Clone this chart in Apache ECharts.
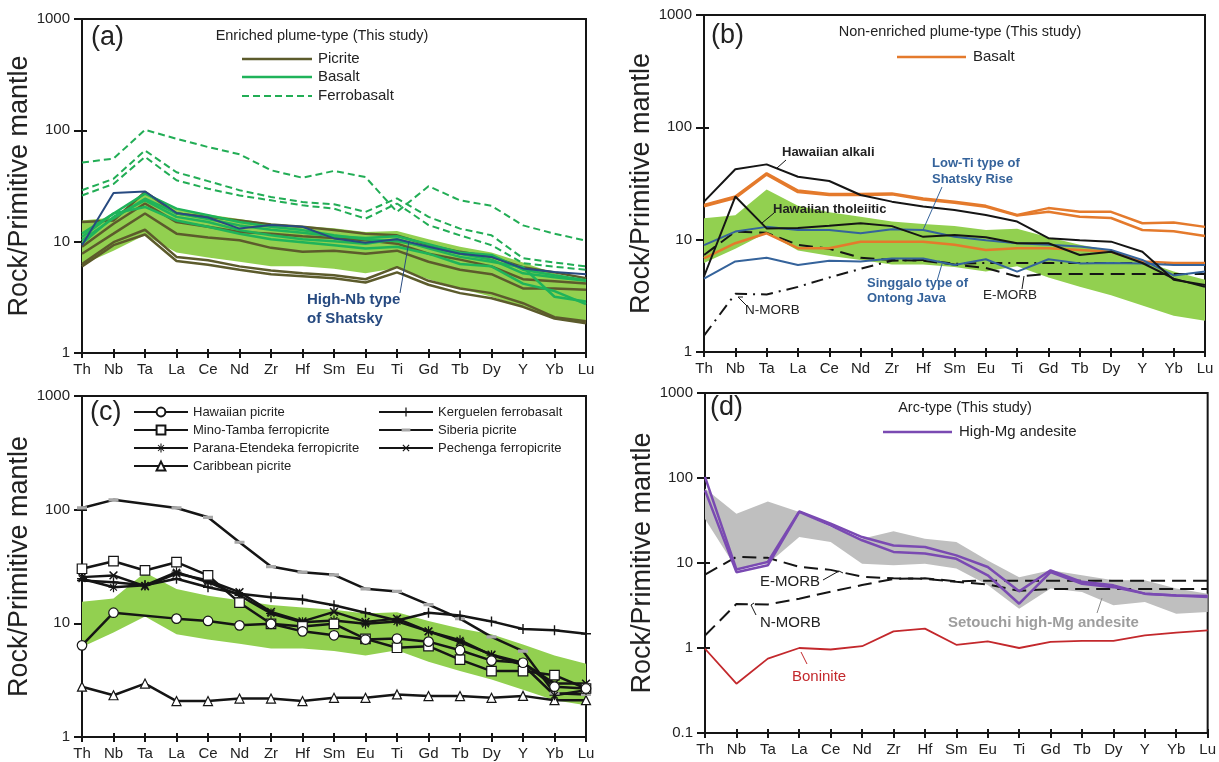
<!DOCTYPE html>
<html>
<head>
<meta charset="utf-8">
<script src="https://cdn.jsdelivr.net/npm/echarts@6/dist/echarts.min.js"></script>
<style>
  html, body { margin: 0; padding: 0; background: #fff; }
  #chart { width: 1219px; height: 762px; }
</style>
</head>
<body>
<div id="chart"></div>
<script>
// Trace elements, ordered by incompatibility
const elements = ['Th','Nb','Ta','La','Ce','Nd','Zr','Hf','Sm','Eu','Ti','Gd','Tb','Dy','Y','Yb','Lu'];

// Enriched plume-type field (shaded range)
const fieldLow  = [6.2, 8.3, 11.5, 8.0, 7.2, 6.6, 6.0, 6.0, 5.7, 5.2, 5.8, 4.6, 3.8, 3.2, 2.6, 2.1, 1.9];
const fieldHigh = [15.5, 16.5, 28, 20, 17.5, 16, 14.5, 13.8, 13.2, 12.2, 12.5, 10.5, 9.0, 8.0, 6.5, 5.2, 4.4];

// (a) Enriched plume-type samples
const picrite1 = [15, 15.5, 28, 17.9, 16.7, 15.5, 14.3, 13.6, 12.7, 11.8, 11.4, 9.3, 8.1, 7.3, 5.9, 5.3, 4.7];
const picrite2 = [9.0, 14.5, 22, 15, 13.6, 12.2, 11.8, 11.2, 10.8, 10.3, 9.6, 7.8, 6.9, 6.0, 4.6, 4.4, 4.2];
const picrite3 = [7.8, 11.8, 17.9, 11.8, 10.9, 10.3, 8.8, 8.1, 8.3, 7.8, 8.3, 6.6, 5.6, 5.1, 3.8, 3.8, 3.7];
const picrite4 = [6.3, 9.9, 12.8, 7.3, 6.8, 6.0, 5.5, 5.2, 5.0, 4.6, 5.9, 4.45, 3.8, 3.45, 2.8, 2.1, 1.93];
const picrite5 = [6.0, 9.3, 11.6, 6.7, 6.2, 5.6, 5.1, 4.9, 4.7, 4.3, 5.3, 4.1, 3.45, 3.1, 2.6, 2.04, 1.85];
const basalt1 = [11.8, 17.9, 27, 19.8, 17.3, 15, 13.6, 12.7, 11.4, 10.5, 10.1, 9.0, 7.8, 6.9, 5.2, 4.8, 4.45];
const basalt2 = [9.6, 16.7, 23.5, 16.7, 15, 12.7, 11.4, 10.5, 10.1, 9.6, 10.5, 8.7, 7.3, 6.6, 5.9, 3.2, 2.9];
const basalt3 = [11, 17.9, 20.5, 15.5, 13.6, 11.8, 10.5, 9.9, 9.3, 8.7, 9.0, 7.8, 6.3, 6.0, 4.2, 3.6, 2.75];
const basalt4 = [10.3, 16.2, 24.3, 18, 16, 14, 12.8, 12, 11.2, 10.8, 11.2, 9.5, 8.0, 7.6, 5.6, 5.0, 4.5];
const ferro1 = [51.3, 55.7, 101, 84, 70.8, 61, 43.8, 37.5, 43.2, 38, 18.5, 31.5, 23.5, 21, 14, 11.8, 10.2];
const ferro2 = [29, 36.7, 66, 42, 35, 29, 25.2, 22.7, 21.7, 18.5, 24.5, 16.7, 13.1, 11.4, 7.1, 6.5, 6.0];
const ferro3 = [26, 33, 57.8, 35.6, 29.9, 26, 23.5, 21.2, 19.8, 16.1, 22, 14.1, 11.4, 9.3, 6.4, 5.95, 5.6];
const highNbShatsky = [9.3, 27.4, 28.2, 18.1, 16.5, 13.1, 14.1, 13.6, 10.7, 9.8, 10.5, 9.0, 7.8, 7.3, 5.75, 5.35, 5.1];

// (b) Non-enriched plume-type samples and references
const nonEnriched1 = [20.4, 24.2, 39, 27.4, 25.5, 25.5, 25.8, 23.3, 21.8, 20, 16.6, 19.1, 17.7, 17.7, 14, 14.2, 13];
const nonEnriched2 = [19.8, 23.5, 38, 26.5, 25, 25, 25.3, 22.8, 21.3, 19.6, 16.4, 17.7, 16, 15.6, 12.2, 11.9, 10.8];
const nonEnriched3 = [6.8, 9.3, 11.4, 8.4, 8.4, 9.6, 9.6, 9.6, 9.0, 8.1, 8.4, 8.4, 8.1, 7.8, 6.4, 6.2, 6.2];
const hawaiianAlkali = [21.8, 42.4, 46.8, 36.3, 33.3, 25, 21.8, 19.7, 18.4, 16.6, 14.5, 10.3, 9.9, 9.6, 7.8, 4.4, 3.95];
const hawaiianTholeiitic = [4.7, 24.2, 12.6, 12.7, 13.3, 14, 13.2, 10.6, 11, 10.5, 9.3, 9.3, 7.3, 7.8, 6.2, 4.5, 3.8];
const lowTiShatsky = [8.95, 11.8, 13, 12.2, 12.2, 11.4, 12.4, 12.2, 10.6, 9.9, 9.3, 9.0, 8.7, 8.1, 6.6, 4.8, 5.2];
const singgalo = [4.5, 6.4, 6.9, 5.95, 6.5, 6.4, 6.8, 6.8, 5.95, 6.7, 5.2, 6.7, 6.15, 6.2, 6.15, 5.95, 5.95];
const eMorb = [7.3, 11.8, 11.5, 9.0, 8.3, 6.9, 6.6, 6.5, 6.0, 5.6, 4.7, 4.95, 4.95, 4.95, 4.95, 4.95, 4.95];
const nMorb = [1.4, 3.3, 3.25, 3.8, 4.6, 5.5, 6.5, 6.6, 6.1, 6.2, 6.2, 6.2, 6.2, 6.2, 6.2, 6.2, 6.2];

// (c) Picrite and ferropicrite references
const hawaiianPicrite = [6.4, 12.4, null, 11, 10.5, 9.6, 9.9, 8.5, 7.85, 7.2, 7.35, 6.9, 5.8, 4.7, 4.5, 2.77, 2.67];
const minoTamba = [30.2, 35.2, 29.2, 34.5, 26.4, 15.2, 9.9, 9.4, 9.9, 7.3, 6.1, 6.3, 4.8, 3.8, 3.8, 3.5, 2.67];
const paranaEtendeka = [24.7, 20.8, 21.6, 28.2, 23, 17.6, 12.2, 10.2, 10.6, 9.9, 10.4, 8.5, 7.1, 5.25, 4.3, 2.33, 2.58];
const caribbean = [2.77, 2.33, 2.95, 2.07, 2.07, 2.18, 2.18, 2.07, 2.21, 2.21, 2.37, 2.29, 2.29, 2.21, 2.3, 2.11, 2.11];
const kerguelen = [23.8, 23, 21.6, 24.7, 20.8, 18.2, 17, 16.2, 14.4, 12.4, 10.6, 12.4, 11.7, 10.4, 8.9, 8.7, 8.1];
const siberia = [103.5, 122, null, 103.5, 85.7, 51.7, 31.6, 28.2, 26.7, 20.1, 19.1, 14.6, 11, 7.6, 5.7, 2.42, 2.37];
const pechenga = [25.5, 26.4, 21.2, 27.4, 23.8, 18.8, 12.6, 10.4, 12.6, 10.3, 11, 8.5, 6.85, 5.3, 4.5, 2.95, 2.95];

// (d) Arc-type samples and references
const setouchiLow  = [33, 8.6, 9.8, 20.2, 17.7, 9.8, 9.4, 9.8, 8.6, 5.5, 2.9, 5.0, 4.56, 3.18, 3.47, 2.53, 2.65];
const setouchiHigh = [75, 38, 53, 39.8, 26.5, 19.3, 23.6, 19.3, 17.7, 10.7, 6.8, 8.2, 7.2, 6.25, 6.25, 5.0, 4.36];
const highMgAndesite1 = [103, 8.4, 10.3, 40.5, 29, 20.2, 16.1, 15.4, 12.3, 8.97, 4.64, 8.2, 6.0, 5.46, 4.36, 4.16, 4.09];
const highMgAndesite2 = [71.6, 7.8, 9.4, 40, 27.8, 18.5, 13.5, 12.9, 11.2, 7.17, 3.32, 7.8, 5.7, 5.2, 4.36, 4.16, 3.98];
const boninite = [0.98, 0.38, 0.75, 1.0, 0.96, 1.05, 1.57, 1.69, 1.09, 1.2, 1.0, 1.18, 1.21, 1.21, 1.41, 1.52, 1.61];

const FONT = "'Liberation Sans', Arial, sans-serif";
const INK = '#151515';
const PIC = '#5c5b2c', BAS = '#1fb35a', FER = '#22ad55', HNB = '#274a80';
const ORG = '#e47a2c', BLU = '#35639b', PUR = '#7a4ab2', RED = '#c3282c';
const GRN = '#92d050', GRY = '#bfbfbf';

const grids = [
  { left: 82,  top: 19,  width: 504, height: 334 },
  { left: 704, top: 15,  width: 501, height: 337 },
  { left: 82,  top: 396, width: 504, height: 341 },
  { left: 705, top: 393, width: 503, height: 340 }
];
const yMin = [1, 1, 1, 0.1];
const nameGaps = [42, 49, 42, 47];

// Outer axes carry labels and outward ticks; inner twins add the inward half of each tick
function xAxis(i, inner) {
  return {
    type: 'category', gridIndex: i, data: elements, boundaryGap: false, position: 'bottom',
    axisLine: { show: !inner, lineStyle: { color: INK, width: 2 } },
    axisTick: { show: true, inside: inner, length: inner ? 4 : 5, interval: 0, lineStyle: { color: INK, width: 2 } },
    axisLabel: { show: !inner, interval: 0, fontSize: 15, color: '#222', margin: 9, fontFamily: FONT },
    splitLine: { show: false }
  };
}
function yAxis(i, inner) {
  return {
    type: 'log', logBase: 10, gridIndex: i, min: yMin[i], max: 1000, position: 'left',
    axisLine: { show: !inner, lineStyle: { color: INK, width: 2 } },
    axisTick: { show: true, inside: inner, length: inner ? 5 : 8, lineStyle: { color: INK, width: 2 } },
    axisLabel: { show: !inner, fontSize: 15, color: '#222', margin: 12, fontFamily: FONT,
      formatter: v => String(+(+v).toPrecision(3)) },
    splitLine: { show: false }, minorTick: { show: false },
    name: inner ? '' : 'Rock/Primitive mantle', nameLocation: 'middle', nameGap: nameGaps[i],
    nameTextStyle: { fontSize: 27, color: '#222', fontFamily: FONT }
  };
}

function line(g, name, data, color, width, extra) {
  return Object.assign({
    type: 'line', name, xAxisIndex: g, yAxisIndex: g, data,
    symbol: 'none', connectNulls: true, silent: true, z: 3,
    lineStyle: { color, width }, itemStyle: { color }
  }, extra || {});
}
function field(g, low, high, color) {
  return {
    type: 'custom', xAxisIndex: g, yAxisIndex: g, z: 1, silent: true, clip: true,
    data: [[0, low[0]]],
    renderItem: (params, api) => {
      const pts = [];
      for (let i = 0; i < elements.length; i++) pts.push(api.coord([i, high[i]]));
      for (let i = elements.length - 1; i >= 0; i--) pts.push(api.coord([i, low[i]]));
      return { type: 'polygon', shape: { points: pts }, style: { fill: color } };
    }
  };
}
function marked(name, data, symbol, size, fill, extra) {
  return line(2, name, data, INK, 2.5, Object.assign({
    symbol, symbolSize: size, showSymbol: true,
    itemStyle: { color: fill, borderColor: INK, borderWidth: 1.2 }
  }, extra || {}));
}

const PLUS = 'path://M4.3,0h1.4v4.3h4.3v1.4h-4.3v4.3h-1.4v-4.3h-4.3v-1.4h4.3z';
const STAR = 'path://M4.4,0h1.2v4.4h4.4v1.2h-4.4v4.4h-1.2v-4.4h-4.4v-1.2h4.4z M1.2,2 L2,1.2 L8.8,8 L8,8.8 Z M8,1.2 L8.8,2 L2,8.8 L1.2,8 Z';
// flat bar inside a square box (corner specks keep the box square)
const BAR = 'path://M0,0h0.05v0.05h-0.05z M0,3.4h10v3.2h-10z M9.95,9.95h0.05v0.05h-0.05z';

const dashFerro = { lineStyle: { color: FER, width: 2, type: [7, 4] } };
const dashMorb = { lineStyle: { color: INK, width: 2, type: [14, 7] } };
const dashDotMorb = { lineStyle: { color: INK, width: 2, type: [12, 6, 2, 6] } };

const series = [
  // (a)
  field(0, fieldLow, fieldHigh, GRN),
  line(0, 'Picrite 1', picrite1, PIC, 2.5),
  line(0, 'Picrite 2', picrite2, PIC, 2.5),
  line(0, 'Basalt 1', basalt1, BAS, 2.5),
  line(0, 'Picrite 3', picrite3, PIC, 2.5),
  line(0, 'Basalt 2', basalt2, BAS, 2.5),
  line(0, 'Basalt 3', basalt3, BAS, 2.5),
  line(0, 'Picrite 4', picrite4, PIC, 2.5),
  line(0, 'Picrite 5', picrite5, PIC, 2.5),
  line(0, 'Basalt 4', basalt4, BAS, 2.5),
  line(0, 'Ferrobasalt 1', ferro1, FER, 2, dashFerro),
  line(0, 'Ferrobasalt 2', ferro2, FER, 2, dashFerro),
  line(0, 'Ferrobasalt 3', ferro3, FER, 2, dashFerro),
  line(0, 'High-Nb type of Shatsky', highNbShatsky, HNB, 2, { z: 4 }),
  // (b)
  field(1, fieldLow, fieldHigh, GRN),
  line(1, 'E-MORB', eMorb, INK, 2, dashMorb),
  line(1, 'N-MORB', nMorb, INK, 2, dashDotMorb),
  line(1, 'Non-enriched basalt 1', nonEnriched1, ORG, 2.5),
  line(1, 'Non-enriched basalt 2', nonEnriched2, ORG, 2.5),
  line(1, 'Non-enriched basalt 3', nonEnriched3, ORG, 2.5),
  line(1, 'Low-Ti type of Shatsky Rise', lowTiShatsky, BLU, 2),
  line(1, 'Singgalo type of Ontong Java', singgalo, BLU, 2),
  line(1, 'Hawaiian alkali', hawaiianAlkali, INK, 2),
  line(1, 'Hawaiian tholeiitic', hawaiianTholeiitic, INK, 2),
  // (c)
  field(2, fieldLow, fieldHigh, GRN),
  marked('Caribbean picrite', caribbean, 'triangle', 9, '#fff'),
  marked('Siberia picrite', siberia, BAR, 10, '#a8a8a8', { itemStyle: { color: '#a8a8a8', borderWidth: 0 } }),
  marked('Kerguelen ferrobasalt', kerguelen, PLUS, 10, INK, { itemStyle: { color: INK, borderWidth: 0 } }),
  marked('Parana-Etendeka ferropicrite', paranaEtendeka, STAR, 10, INK, { itemStyle: { color: INK, borderWidth: 0 } }),
  marked('Pechenga ferropicrite', pechenga, PLUS, 11, INK, { symbolRotate: 45, itemStyle: { color: INK, borderWidth: 0 } }),
  marked('Mino-Tamba ferropicrite', minoTamba, 'rect', 9.5, '#fff'),
  marked('Hawaiian picrite', hawaiianPicrite, 'circle', 9.5, '#fff'),
  // (d)
  field(3, setouchiLow, setouchiHigh, GRY),
  line(3, 'E-MORB (d)', eMorb, INK, 2, dashMorb),
  line(3, 'N-MORB (d)', nMorb, INK, 2, dashMorb),
  line(3, 'Boninite', boninite, RED, 1.8),
  line(3, 'High-Mg andesite 1', highMgAndesite1, PUR, 2.5),
  line(3, 'High-Mg andesite 2', highMgAndesite2, PUR, 2.5)
];

function txt(x, y, text, opts) {
  const o = Object.assign({ size: 15, color: '#222', weight: 'normal', align: 'left' }, opts || {});
  return {
    type: 'text', z: 100, silent: true,
    style: {
      x, y, text, fill: o.color,
      font: `${o.weight} ${o.size}px ${FONT}`,
      textAlign: o.align, align: o.align,
      textVerticalAlign: 'middle', verticalAlign: 'middle'
    }
  };
}
function seg(points, color, width, dash) {
  return {
    type: 'polyline', z: 100, silent: true,
    shape: { points },
    style: { stroke: color, lineWidth: width, fill: null, lineDash: dash || null }
  };
}

const graphics = [
  // (a)
  txt(91, 38, '(a)', { size: 27 }),
  txt(322, 36, 'Enriched plume-type (This study)', { align: 'center', size: 14.5 }),
  seg([[242, 59], [312, 59]], PIC, 2.5),
  seg([[242, 77], [312, 77]], BAS, 2.5),
  seg([[242, 96], [312, 96]], FER, 2, [7, 4]),
  txt(318, 59, 'Picrite'),
  txt(318, 77, 'Basalt'),
  txt(318, 96, 'Ferrobasalt'),
  txt(307, 300, 'High-Nb type', { weight: 'bold', color: HNB }),
  txt(307, 319, 'of Shatsky', { weight: 'bold', color: HNB }),
  seg([[409, 241], [400, 293]], HNB, 1),
  // (b)
  txt(711, 36, '(b)', { size: 27 }),
  txt(960, 32, 'Non-enriched plume-type (This study)', { align: 'center', size: 14.5 }),
  seg([[897, 57], [966, 57]], ORG, 2.5),
  txt(973, 57, 'Basalt'),
  txt(782, 152, 'Hawaiian alkali', { weight: 'bold', size: 13 }),
  seg([[786, 160], [777, 168]], INK, 1),
  txt(773, 209, 'Hawaiian tholeiitic', { weight: 'bold', size: 13 }),
  seg([[774, 213], [762, 223]], INK, 1),
  txt(932, 163, 'Low-Ti type of', { weight: 'bold', size: 13, color: BLU }),
  txt(932, 179, 'Shatsky Rise', { weight: 'bold', size: 13, color: BLU }),
  seg([[942, 187], [923, 230]], BLU, 1),
  txt(867, 283, 'Singgalo type of', { weight: 'bold', size: 13, color: BLU }),
  txt(867, 298, 'Ontong Java', { weight: 'bold', size: 13, color: BLU }),
  seg([[937, 281], [942, 264]], BLU, 1),
  txt(983, 295, 'E-MORB', { size: 13.5 }),
  seg([[1022, 289], [1024, 276]], INK, 1),
  txt(745, 310, 'N-MORB', { size: 13.5 }),
  seg([[747, 306], [738, 297], [743, 297]], INK, 1),
  // (c)
  txt(90, 413, '(c)', { size: 27 }),
  // (d)
  txt(710, 408, '(d)', { size: 27 }),
  txt(965, 408, 'Arc-type (This study)', { align: 'center', size: 14.5 }),
  seg([[883, 432], [952, 432]], PUR, 2.5),
  txt(959, 432, 'High-Mg andesite'),
  txt(760, 582, 'E-MORB', { size: 15 }),
  seg([[823, 580], [839, 571], [843, 573]], INK, 1),
  txt(760, 623, 'N-MORB', { size: 15 }),
  seg([[756, 615], [751, 605], [754, 603]], INK, 1),
  txt(792, 677, 'Boninite', { size: 15, color: RED }),
  seg([[807, 664], [801, 652]], RED, 1),
  txt(948, 623, 'Setouchi high-Mg andesite', { size: 15, weight: 'bold', color: '#9d9d9d' }),
  seg([[1097, 613], [1102, 598]], '#8a8a8a', 1)
];

const legendBase = {
  orient: 'vertical', padding: 0, itemWidth: 54, itemHeight: 11, itemGap: 4,
  selectedMode: false, textStyle: { fontSize: 13, color: '#222', lineHeight: 14, fontFamily: FONT }
};

const chart = echarts.init(document.getElementById('chart'), null, { renderer: 'canvas' });
chart.setOption({
  animation: false,
  backgroundColor: '#fff',
  textStyle: { fontFamily: FONT },
  grid: grids.map(g => Object.assign({ show: true, borderColor: INK, borderWidth: 2, backgroundColor: 'transparent' }, g)),
  xAxis: [0, 1, 2, 3].map(i => xAxis(i, false)).concat([0, 1, 2, 3].map(i => xAxis(i, true))),
  yAxis: [0, 1, 2, 3].map(i => yAxis(i, false)).concat([0, 1, 2, 3].map(i => yAxis(i, true))),
  legend: [
    Object.assign({ left: 133, top: 405,
      data: ['Hawaiian picrite', 'Mino-Tamba ferropicrite', 'Parana-Etendeka ferropicrite', 'Caribbean picrite'] }, legendBase),
    Object.assign({ left: 378, top: 405,
      data: ['Kerguelen ferrobasalt', 'Siberia picrite', 'Pechenga ferropicrite'] }, legendBase)
  ],
  graphic: graphics,
  series
});
</script>
</body>
</html>
